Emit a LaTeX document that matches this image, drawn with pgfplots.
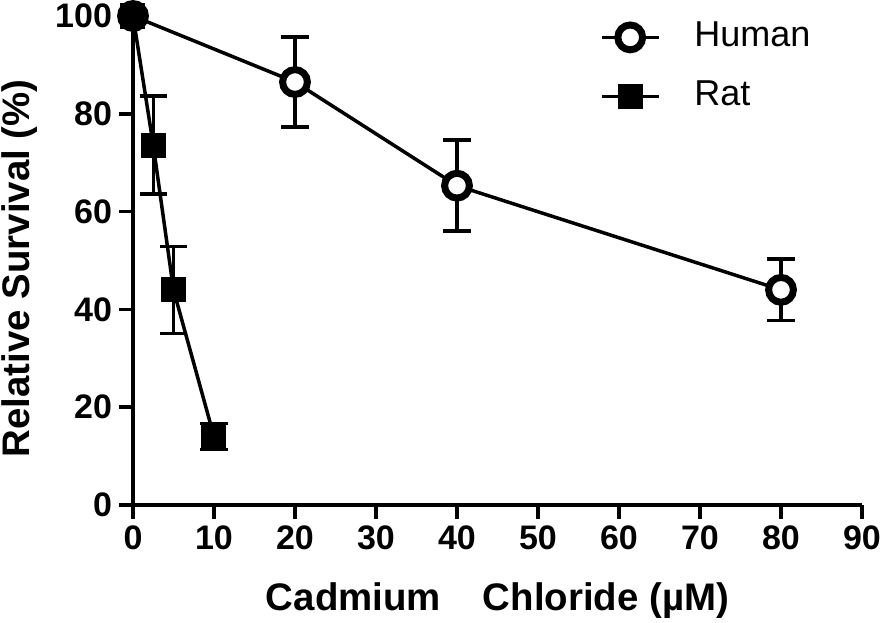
\documentclass[border=0pt]{standalone}
\usepackage{pgfplots}
\pgfplotsset{compat=1.18}
\usepackage{fontspec}
\setmainfont{Liberation Sans}
\begin{document}
\begin{tikzpicture}
\begin{axis}[
  scale only axis, width=364.5pt, height=244.5pt,
  xmin=0, xmax=90, ymin=0, ymax=100,
  axis x line*=bottom, axis y line*=left,
  axis line style={line width=2pt},
  xtick={0,10,...,90}, ytick={0,20,...,100},
  tick align=outside, major tick length=7pt,
  tick style={line width=1.75pt, black},
  /pgf/number format/assume math mode=true,
  tick label style={font=\fontsize{17}{17}\selectfont\bfseries},
  xlabel={Cadmium\hspace{21pt}Chloride (µM)},
  ylabel={Relative Survival (\%)},
  label style={font=\fontsize{19.2}{19.2}\selectfont\bfseries},
  xlabel style={at={(0.5,-0.195)}, anchor=center},
  ylabel style={at={(-0.155,0.484)}, anchor=center},
  clip=false,
  legend cell align=left,
  legend style={at={(0.64,1.0)}, anchor=north west, draw=none, fill=none,
    inner sep=0pt,
    font=\fontsize{18}{18}\selectfont,
    nodes={text height=13pt, text depth=4pt},
    row sep=8.5pt,
    /tikz/every odd column/.append style={column sep=15pt}},
  legend image code/.code={\draw[#1, line width=1.75pt, mark=none] (0pt,0pt) -- (28.5pt,0pt);
    \draw[#1, line width=1.75pt] plot coordinates {(14.25pt,0pt)};},
]
\addplot[black, line width=1.75pt, mark=*, mark size=6.2pt,
  mark options={fill=white, line width=3.5pt},
  error bars/.cd, y dir=both, y explicit,
  error bar style={line width=1.6pt},
  error mark options={rotate=90, mark size=6.8pt, line width=1.75pt}]
  coordinates {
  (0,100) +- (0,0)
  (20,86.5) +- (0,9.2)
  (40,65.3) +- (0,9.3)
  (80,44) +- (0,6.3)
  };
\addlegendentry{Human}
\addplot[black, line width=1.75pt, mark=square*, mark size=5.75pt,
  mark options={fill=black, line width=1pt},
  error bars/.cd, y dir=both, y explicit,
  error bar style={line width=1.6pt},
  error mark options={rotate=90, mark size=6.8pt, line width=1.75pt}]
  coordinates {
  (0,100) +- (0,0)
  (2.5,73.6) +- (0,10)
  (5,44) +- (0,8.9)
  (10,14) +- (0,2.7)
  };
\addlegendentry{Rat}
\end{axis}
\pgfresetboundingbox
\path[use as bounding box] (-66.5pt,-58.5pt) rectangle (375.5pt,252.5pt);
\end{tikzpicture}
\end{document}
